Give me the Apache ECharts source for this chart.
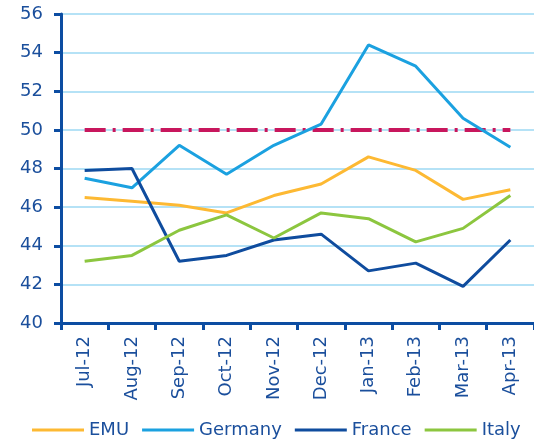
<!DOCTYPE html>
<html>
<head>
<meta charset="utf-8">
<script src="https://cdn.jsdelivr.net/npm/echarts@6/dist/echarts.min.js"></script>
<style>
  html, body { margin: 0; padding: 0; background: #fff; }
  #chart { width: 534px; height: 445px; }
</style>
</head>
<body>
<div id="chart"></div>
<script>
// 类目与各序列
const months = ['Jul-12', 'Aug-12', 'Sep-12', 'Oct-12', 'Nov-12', 'Dec-12', 'Jan-13', 'Feb-13', 'Mar-13', 'Apr-13'];
const emu = [46.5, 46.3, 46.1, 45.7, 46.6, 47.2, 48.6, 47.9, 46.4, 46.9];
const germany = [47.5, 47.0, 49.2, 47.7, 49.2, 50.3, 54.4, 53.3, 50.6, 49.1];
const france = [47.9, 48.0, 43.2, 43.5, 44.3, 44.6, 42.7, 43.1, 41.9, 44.3];
const italy = [43.2, 43.5, 44.8, 45.6, 44.4, 45.7, 45.4, 44.2, 44.9, 46.6];
const threshold = [50, 50, 50, 50, 50, 50, 50, 50, 50, 50];

const axisBlue = '#0c4da2';
const textBlue = '#1b4f9c';
const font = 'DejaVu Sans';

const chart = echarts.init(document.getElementById('chart'));

function line(name, data, color) {
  return {
    name: name,
    type: 'line',
    data: data,
    showSymbol: false,
    symbol: 'none',
    lineStyle: { color: color, width: 3 },
    itemStyle: { color: color },
    z: 3
  };
}

const option = {
  animation: false,
  grid: { left: 61, right: 0, top: 14, bottom: 122 },
  legend: {
    data: ['EMU', 'Germany', 'France', 'Italy'],
    left: 32,
    top: 421,
    padding: 0,
    icon: 'rect',
    itemWidth: 52,
    itemHeight: 3,
    itemGap: 13,
    textStyle: { color: textBlue, fontSize: 18, fontFamily: font }
  },
  xAxis: {
    type: 'category',
    data: months,
    boundaryGap: true,
    axisLine: { lineStyle: { color: axisBlue, width: 3 } },
    axisTick: { show: true, length: 7, lineStyle: { color: axisBlue, width: 3 } },
    axisLabel: { rotate: 90, margin: 13, color: textBlue, fontSize: 18, fontFamily: font }
  },
  yAxis: {
    type: 'value',
    min: 40,
    max: 56,
    interval: 2,
    axisLine: { show: true, lineStyle: { color: axisBlue, width: 3 } },
    axisTick: { show: true, length: 7, lineStyle: { color: axisBlue, width: 3 } },
    axisLabel: { margin: 18, color: textBlue, fontSize: 18, fontFamily: font },
    splitLine: { lineStyle: { color: '#b5e2f6', width: 2 } }
  },
  series: [
    {
      name: 'threshold',
      type: 'line',
      data: threshold,
      showSymbol: false,
      symbol: 'none',
      lineStyle: { color: '#c8175d', width: 4, type: [21, 7, 3, 7] },
      z: 2
    },
    line('EMU', emu, '#fdb933'),
    line('Germany', germany, '#1ba1e0'),
    line('France', france, '#0f4c9e'),
    line('Italy', italy, '#8cc63f')
  ]
};

chart.setOption(option);
</script>
</body>
</html>
